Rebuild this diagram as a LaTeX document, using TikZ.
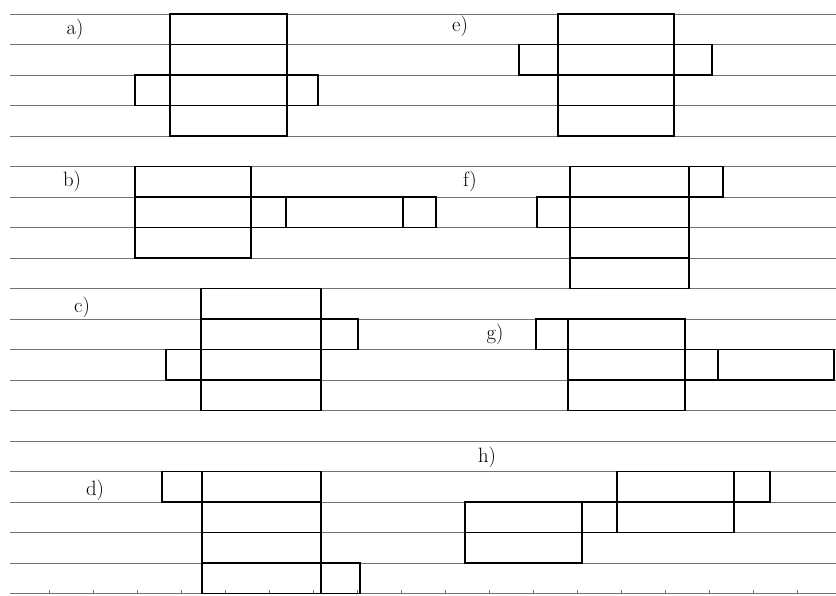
\documentclass[tikz,border=0pt]{standalone}
\begin{document}
\begin{tikzpicture}[x=1pt,y=-30.5pt,
    ruled/.style={black!55,line width=0.8pt},
    wall/.style={line width=1.4pt,line cap=round},
    tag/.style={font=\huge}]
  \useasboundingbox (0,-0.46) rectangle (836,19.05);
  % lined paper
  \foreach \r in {0,...,19}
    \draw[ruled] (10,\r) -- (836,\r);
  \foreach \t in {49,93,...,837}
    \draw[ruled] (\t,19) -- ++(0,-0.12);
  % a)
  \node[tag] (la) at (75,0.5) {a)};
  \draw[wall] (170,0) rectangle (287,4);
  \foreach \r in {1,2,3}
    \draw[wall] (170,\r) -- (287,\r);
  \draw[wall] (135,2) rectangle (318,3);
  % e)
  \node[tag] (le) at (460,0.4) {e)};
  \draw[wall] (558,0) rectangle (674,4);
  \foreach \r in {1,2,3}
    \draw[wall] (558,\r) -- (674,\r);
  \draw[wall] (519,1) rectangle (712,2);
  % b)
  \node[tag] (lb) at (72,5.5) {b)};
  \draw[wall] (135,5) rectangle (251,8);
  \foreach \r in {6,7}
    \draw[wall] (135,\r) -- (251,\r);
  \draw[wall] (251,6) rectangle (436,7);
  \draw[wall] (286,6) -- (286,7) (403,6) -- (403,7);
  % f)
  \node[tag] (lf) at (470,5.5) {f)};
  \draw[wall] (570,5) rectangle (689,9);
  \foreach \r in {6,7,8}
    \draw[wall] (570,\r) -- (689,\r);
  \draw[wall] (537,6) rectangle (570,7);
  \draw[wall] (689,5) rectangle (723,6);
  % c)
  \node[tag] (lc) at (82,9.6) {c)};
  \draw[wall] (201,9) rectangle (321,13);
  \foreach \r in {10,11,12}
    \draw[wall] (201,\r) -- (321,\r);
  \draw[wall] (321,10) rectangle (358,11);
  \draw[wall] (166,11) rectangle (201,12);
  % g)
  \node[tag] (lg) at (495,10.5) {g)};
  \draw[wall] (568,10) rectangle (685,13);
  \foreach \r in {11,12}
    \draw[wall] (568,\r) -- (685,\r);
  \draw[wall] (536,10) rectangle (568,11);
  \draw[wall] (685,11) rectangle (834,12);
  \draw[wall] (718,11) -- (718,12);
  % d)
  \node[tag] (ld) at (95,15.6) {d)};
  \draw[wall] (202,15) rectangle (321,19);
  \foreach \r in {16,17,18}
    \draw[wall] (202,\r) -- (321,\r);
  \draw[wall] (162,15) rectangle (202,16);
  \draw[wall] (321,18) rectangle (360,19);
  % h)
  \node[tag] (lh) at (487,14.55) {h)};
  \draw[wall] (465,16) rectangle (582,18);
  \draw[wall] (617,15) rectangle (734,17);
  \draw[wall] (734,15) rectangle (770,16);
  \draw[wall] (582,16) -- (734,16);
  \draw[wall] (465,17) -- (617,17);
\end{tikzpicture}
\end{document}
